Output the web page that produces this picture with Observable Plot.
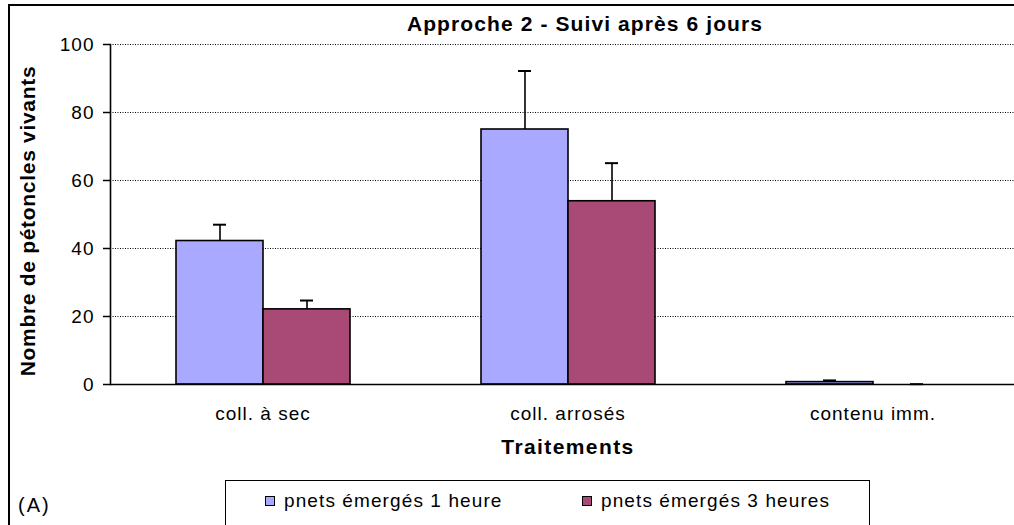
<!DOCTYPE html>
<html>
<head>
<meta charset="utf-8">
<script src="https://cdn.jsdelivr.net/npm/d3@7"></script>
<script src="https://cdn.jsdelivr.net/npm/@observablehq/plot@0.6"></script>
<style>
  html, body { margin: 0; padding: 0; background: #fff; overflow: hidden; }
  #wrap { position: relative; width: 1014px; height: 525px; overflow: hidden; font-family: "Liberation Sans", Arial, sans-serif; }
  #chart { position: absolute; left: 0; top: 0; width: 1025px; }
  #chart svg { max-width: none !important; }
  #chart svg text { letter-spacing: 1px; }
  .abs { position: absolute; white-space: nowrap; line-height: 1; }
  #border { position: absolute; left: 8px; top: 4px; width: 2000px; height: 2000px; border-left: 2px solid #000; border-top: 2px solid #000; }
  #title { font-weight: bold; font-size: 21px; letter-spacing: 1.1px; left: 585px; top: 13px; transform: translateX(-50%); }
  #ylab { font-weight: bold; font-size: 21px; letter-spacing: 0.7px; left: 27px; top: 221px; transform: translate(-50%, -50%) rotate(-90deg); }
  #xlab { font-weight: bold; font-size: 21px; letter-spacing: 1.4px; left: 568px; top: 436px; transform: translateX(-50%); }
  #tagA { font-size: 20px; letter-spacing: 2px; left: 18px; top: 495px; }
  #legend { position: absolute; left: 225px; top: 480px; width: 645px; height: 80px; border: 1.5px solid #000; box-sizing: border-box; }
  .item { position: absolute; top: 9px; font-size: 19px; letter-spacing: 1.1px; display: flex; align-items: center; }
  .sw { width: 8px; height: 8px; border: 1px solid #000; margin-right: 9px; }
</style>
</head>
<body>
<div id="wrap">
  <div id="chart"></div>
  <div id="border"></div>
  <div id="title" class="abs">Approche 2 - Suivi après 6 jours</div>
  <div id="ylab" class="abs">Nombre de pétoncles vivants</div>
  <div id="xlab" class="abs">Traitements</div>
  <div id="tagA" class="abs">(A)</div>
  <div id="legend"></div>
</div>
<script>
// ---- data ----
const categories = ["coll. à sec", "coll. arrosés", "contenu imm."];
const series = ["pnets émergés 1 heure", "pnets émergés 3 heures"];
const colors = ["#a9a9ff", "#a84a75"];
const mean1h = [42.2, 75.0, 0.7];
const err1h = [4.8, 17.2, 0.5];
const mean3h = [22.1, 53.9, 0.0];
const err3h = [2.6, 11.2, 0.1];
const yTicks = [0, 20, 40, 60, 80, 100];

const rows = [];
categories.forEach((c, i) => {
  rows.push({cat: c, series: series[0], value: mean1h[i], err: err1h[i]});
  rows.push({cat: c, series: series[1], value: mean3h[i], err: err3h[i]});
});

const chart = Plot.plot({
  width: 1025,
  height: 525,
  marginLeft: 110,
  marginRight: 0,
  marginTop: 44,
  marginBottom: 141,
  style: {fontFamily: "'Liberation Sans', Arial, sans-serif", background: "transparent", maxWidth: "none"},
  fx: {domain: categories, padding: 0, label: null},
  x: {domain: series, paddingInner: 0, paddingOuter: 0.733, axis: null},
  y: {domain: [0, 100], label: null},
  color: {domain: series, range: colors},
  marks: [
    Plot.ruleY(yTicks.filter(d => d > 0), {stroke: "#000", strokeWidth: 1, strokeDasharray: "1,1.5"}),
    Plot.barY(rows, {fx: "cat", x: "series", y: "value", fill: "series", stroke: "#000", strokeWidth: 1.6}),
    Plot.ruleX(rows, {fx: "cat", x: "series", y1: "value", y2: d => d.value + d.err, stroke: "#000", strokeWidth: 1.6}),
    Plot.tickY(rows, {fx: "cat", x: "series", y: d => d.value + d.err, stroke: "#000", strokeWidth: 2, insetLeft: 37, insetRight: 37}),
    Plot.ruleY([0], {stroke: "#000", strokeWidth: 1.6}),
    Plot.frame({anchor: "left", facetAnchor: "left", stroke: "#000", strokeWidth: 1.6}),
    Plot.axisY({ticks: yTicks, tickSize: 7, tickPadding: 9, fontSize: 19, label: null, stroke: "#000", strokeWidth: 1.5}),
    Plot.axisFx({anchor: "bottom", tickSize: 0, tickPadding: 22, fontSize: 19, label: null})
  ]
});
document.getElementById("chart").appendChild(chart);

// legend
const legend = document.getElementById("legend");
const legendX = [39, 356];
series.forEach((s, i) => {
  const it = document.createElement("div");
  it.className = "item";
  it.style.left = legendX[i] + "px";
  const sw = document.createElement("div");
  sw.className = "sw";
  sw.style.background = colors[i];
  const tx = document.createElement("span");
  tx.textContent = s;
  it.appendChild(sw);
  it.appendChild(tx);
  legend.appendChild(it);
});
</script>
</body>
</html>
